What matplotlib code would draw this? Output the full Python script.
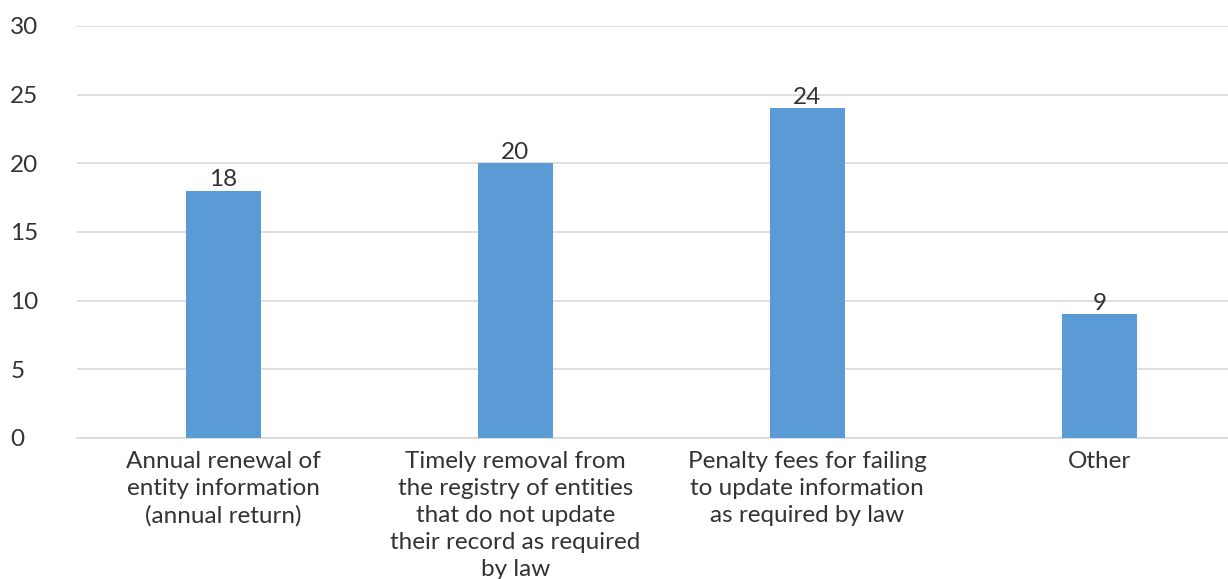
import matplotlib
matplotlib.use("Agg")
import matplotlib.pyplot as plt

categories = [
    "Annual renewal of\nentity information\n(annual return)",
    "Timely removal from\nthe registry of entities\nthat do not update\ntheir record as required\nby law",
    "Penalty fees for failing\nto update information\nas required by law",
    "Other",
]
values = [18, 20, 24, 9]
yticks = [0, 5, 10, 15, 20, 25, 30]

plt.rcParams['font.family'] = ['Lato', 'DejaVu Sans']
text_color = '#333333'
fs = 17.5
fig = plt.figure(figsize=(12.28, 5.79), dpi=100)
ax = fig.add_axes([77/1228, 141/579, 1 - 77/1228, 412/579])

x = range(len(values))
bars = ax.bar(x, values, width=0.257, color='#5B9BD5', zorder=3)
for xi, v in zip(x, values):
    ax.text(xi, v + 0.05, str(v), ha='center', va='bottom', fontsize=fs, color=text_color)

ax.set_ylim(0, 30)
ax.set_xlim(-0.5, 3.44)
ax.set_yticks(yticks)
ax.set_yticklabels([str(t) for t in yticks], fontsize=fs, color=text_color, ha='left')
ax.tick_params(axis='y', length=0, pad=48)
ax.set_xticks(list(x))
ax.set_xticklabels(categories, fontsize=fs, color=text_color, linespacing=1.36)
ax.tick_params(axis='x', length=0, pad=9)
ax.grid(axis='y', color='#D9D9D9', linewidth=1.2, zorder=0)
for s in ['top', 'right', 'left']:
    ax.spines[s].set_visible(False)
ax.spines['bottom'].set_color('#D9D9D9')
ax.spines['bottom'].set_linewidth(1.2)

fig.savefig('out.png', dpi=100)
